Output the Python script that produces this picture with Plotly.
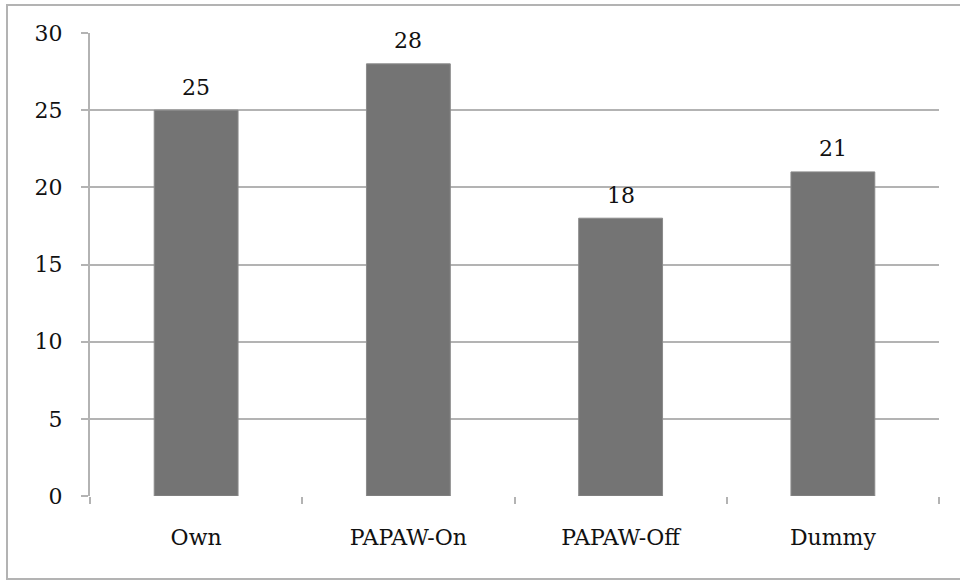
import plotly.graph_objects as go

categories = ["Own", "PAPAW-On", "PAPAW-Off", "Dummy"]
values = [25, 28, 18, 21]
y_ticks = [0, 5, 10, 15, 20, 25, 30]

W, H = 960, 581
L, R, T, B = 90, 21, 33, 85
FONT = "DejaVu Serif"
FS = 22
GRID = "#b3b3b3"

fig = go.Figure()
fig.add_trace(go.Bar(
    x=categories, y=values,
    marker=dict(color="#747474", line=dict(color="#8a8a8a", width=1)),
    width=0.395,
    hoverinfo="skip",
))

for c, v in zip(categories, values):
    fig.add_annotation(x=c, y=v, text=str(v), showarrow=False,
                       yanchor="middle", yshift=23,
                       font=dict(family=FONT, size=FS, color="#111"))

pw = W - L - R
ph = H - T - B
fig.add_shape(type="rect", xref="paper", yref="paper",
              x0=(7 - L) / pw, x1=(966 - L) / pw,
              y0=(H - B - 579) / ph, y1=(H - B - 5) / ph,
              line=dict(color="#b3b3b3", width=2), layer="below")

fig.update_layout(
    width=W, height=H,
    margin=dict(l=L, r=R, t=T, b=B, pad=0),
    paper_bgcolor="white", plot_bgcolor="white",
    showlegend=False,
    font=dict(family=FONT, size=FS, color="#111"),
)
fig.update_xaxes(
    showgrid=False, tickson="boundaries", ticks="outside", ticklen=7,
    tickcolor=GRID, tickwidth=2, showline=False, zeroline=False,
    tickfont=dict(family=FONT, size=FS, color="#111"),
    ticklabelstandoff=26,
)
fig.update_yaxes(
    range=[0, 30], tickvals=y_ticks, showgrid=True, gridcolor=GRID, gridwidth=2,
    ticks="outside", ticklen=7, tickcolor=GRID, tickwidth=2,
    showline=True, linecolor=GRID, linewidth=2, zeroline=False,
    tickfont=dict(family=FONT, size=FS, color="#111"),
    ticklabelstandoff=14,
)

fig.write_html("out.html")
